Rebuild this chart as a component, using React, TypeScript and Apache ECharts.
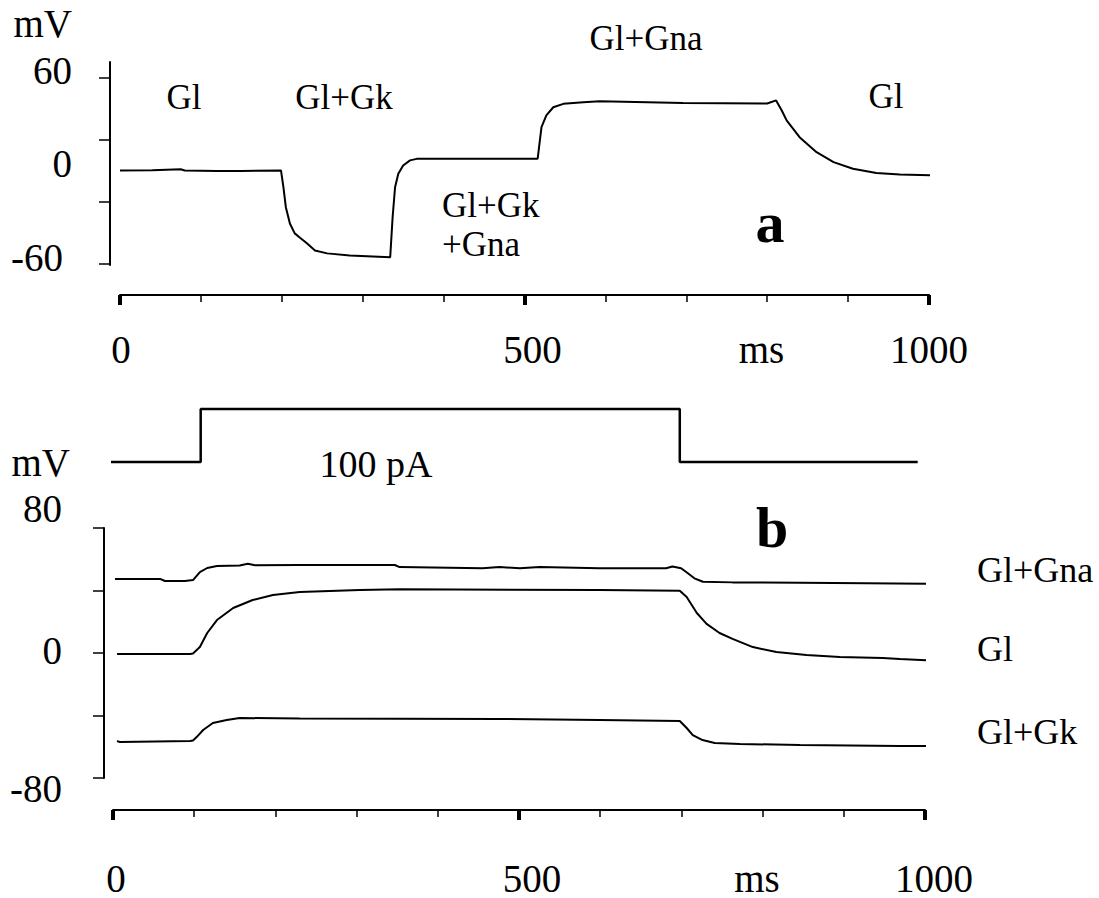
import React, { useEffect, useRef } from "react";
import * as echarts from "echarts";

// ---------- data (time in ms, potential in mV, current in pA) ----------
const timeTicks = [0, 500, 1000];
const timeUnitLabelAt = 793; // where the "ms" unit text sits on the time axis
const timeUnit = "ms";

const panelAYTicks = [-60, -20, 20, 60];
const panelAYLabels = [-60, 0, 60];
const panelBYLabels = [-80, 0, 80];

// panel a : one trace, conductances switched on/off
const traceA: [number, number][] = [
  [0, 0], [40, 0.2], [75, 0.8], [80, 0], [120, -0.4], [150, -0.3], [199, 0],
  [202, -10.8], [205, -23.7], [210, -34.2], [216, -40.6], [222.5, -43.4],
  [231, -47], [241, -51.6], [256, -53.5], [284, -54.8], [334, -56],
  [337, -30], [340, -10.8], [344, -2.1], [350, 3.2], [358.5, 6.5], [366.7, 7.5],
  [516.3, 7.6], [518, 15], [521, 28], [527, 35.5], [535.6, 40.8], [548, 43],
  [572.7, 44], [593, 44.6], [696, 43.6], [800, 43.2], [811, 45.2], [818, 38.7],
  [824, 32.3], [840, 21.5], [861, 11.8], [882, 5.4], [906, 1.1], [935, -1.7],
  [964, -2.6], [1016, -3.2],
];

// panel b : current step
const stimB: [number, number][] = [
  [-4, 0], [108, 0], [108, 100], [698, 100], [698, 0], [991, 0],
];

// panel b : three responses
const seriesNamesB = ["Gl+Gna", "Gl", "Gl+Gk"];
const glGnaB: [number, number][] = [
  [2.5, 47.4], [58, 47.4], [64, 46.1], [88.6, 46.1], [98.5, 46.7], [107, 51.8],
  [116, 54.4], [128, 55.7], [156, 56], [166, 57.1], [175, 56.2], [230, 56.3],
  [347, 56.3], [353, 55], [455, 54.2], [476, 55], [501, 54.2], [525.5, 55],
  [599, 54.2], [681, 54.2], [689, 55.4], [699.6, 54.2], [708, 51], [716, 47.8],
  [726.5, 45.6], [763, 45.2], [846, 45], [928, 44.6], [1018, 44.2],
];
const glB: [number, number][] = [
  [5, -0.6], [95, -0.6], [98.5, -0.3], [107, 3.8], [116, 12.8], [128, 21.1],
  [148, 28.8], [172, 33.9], [197, 37.1], [230, 39], [304, 40.3], [353, 40.8],
  [599, 40.3], [698, 39.9], [706.5, 35.8], [719, 25.6], [731, 18.6], [747, 12.8],
  [763, 9], [788, 3.8], [817, 0.6], [854, -1.3], [895, -2.6], [948, -3.2],
  [969, -3.8], [1018, -5.1],
];
const glGkB: [number, number][] = [
  [5, -56.3], [8.6, -57], [95, -56.3], [98.5, -56], [103, -53.8], [111, -49.3],
  [123, -44.8], [140, -42.9], [156, -41.6], [230, -41.9], [476, -42.2],
  [599, -42.9], [698, -43.5], [706.5, -48], [714, -52.5], [726, -55.7],
  [741, -57.6], [772, -58.2], [846, -58.9], [969, -59.5], [1015, -59.5],
];

// ---------- styling ----------
const SERIF = "Liberation Serif";
const INK = "#000";
const TICK_FONT = 39;
const NOTE_FONT = 35;

function xAxisCfg(gridIndex: number, offset: number, margin: number, shift500: number, shift1000: number, shift0: number) {
  return {
    type: "value",
    gridIndex,
    min: 0,
    max: 1000,
    interval: 500,
    offset,
    axisLine: { show: true, onZero: false, lineStyle: { color: INK, width: 2 } },
    axisTick: { show: true, inside: false, length: 10, lineStyle: { color: INK, width: 4 } },
    minorTick: { show: true, splitNumber: 5, length: 7, lineStyle: { color: INK, width: 1.5 } },
    splitLine: { show: false },
    minorSplitLine: { show: false },
    axisLabel: {
      show: true,
      customValues: [...timeTicks, timeUnitLabelAt],
      margin,
      verticalAlign: "middle",
      fontFamily: SERIF,
      fontSize: TICK_FONT,
      formatter: (v: number) => {
        if (v === timeUnitLabelAt) return `{t|${timeUnit}}`;
        if (v === 500) return `{s5|${v}}`;
        if (v === 1000) return `{s10|${v}}`;
        return `{s0|${v}}`;
      },
      rich: {
        t: { fontSize: TICK_FONT, fontFamily: SERIF, color: INK },
        s0: { fontSize: TICK_FONT, fontFamily: SERIF, color: INK, padding: [0, 0, 0, shift0] },
        s5: { fontSize: TICK_FONT, fontFamily: SERIF, color: INK, padding: [0, 0, 0, shift500] },
        s10: { fontSize: TICK_FONT, fontFamily: SERIF, color: INK, padding: [0, 0, 0, shift1000] },
      },
    },
  };
}

const traceLine = { color: INK, width: 2 };

const option: any = {
  animation: false,
  backgroundColor: "#fff",
  textStyle: { fontFamily: SERIF, color: INK },
  grid: [
    { left: 120, top: 62, width: 809, height: 203 },
    { left: 113, top: 409, width: 812, height: 53 },
    { left: 113, top: 528, width: 812, height: 250 },
  ],
  xAxis: [
    xAxisCfg(0, 30, 54, 16, 0, 2),
    { type: "value", gridIndex: 1, min: 0, max: 1000, show: false },
    xAxisCfg(2, 32, 68, 26, 18, 6),
  ],
  yAxis: [
    {
      type: "value",
      gridIndex: 0,
      min: -61,
      max: 70,
      offset: 10,
      name: "mV",
      nameLocation: "end",
      nameGap: 39,
      nameTextStyle: {
        fontSize: TICK_FONT, fontFamily: SERIF, color: INK,
        align: "right", verticalAlign: "middle", padding: [0, 38, 0, 0],
      },
      axisLine: { show: true, onZero: false, lineStyle: { color: INK, width: 2 } },
      axisTick: { show: true, customValues: panelAYTicks, length: 11, lineStyle: { color: INK, width: 1.5 } },
      splitLine: { show: false },
      axisLabel: {
        show: true,
        customValues: panelAYLabels,
        margin: 38,
        fontFamily: SERIF,
        fontSize: TICK_FONT,
        formatter: (v: number) => (v < 0 ? `{n|${v}}` : `{p|${v}}`),
        rich: {
          p: { fontSize: TICK_FONT, fontFamily: SERIF, color: INK, padding: [0, 0, 14, 0] },
          n: { fontSize: TICK_FONT, fontFamily: SERIF, color: INK, padding: [0, 9, 12, 0] },
        },
      },
    },
    { type: "value", gridIndex: 1, min: 0, max: 100, show: false },
    {
      type: "value",
      gridIndex: 2,
      min: -80,
      max: 80,
      interval: 40,
      offset: 9,
      name: "mV",
      nameLocation: "end",
      nameGap: 66,
      nameTextStyle: {
        fontSize: TICK_FONT, fontFamily: SERIF, color: INK,
        align: "right", verticalAlign: "middle", padding: [0, 34, 0, 0],
      },
      axisLine: { show: true, onZero: false, lineStyle: { color: INK, width: 2 } },
      axisTick: { show: true, length: 11, lineStyle: { color: INK, width: 1.5 } },
      splitLine: { show: false },
      axisLabel: {
        show: true,
        customValues: panelBYLabels,
        margin: 42,
        fontFamily: SERIF,
        fontSize: TICK_FONT,
        formatter: (v: number) => (v > 0 ? `{hi|${v}}` : v < 0 ? `{lo|${v}}` : `{z|${v}}`),
        rich: {
          hi: { fontSize: TICK_FONT, fontFamily: SERIF, color: INK, padding: [0, 0, 40, 0] },
          z: { fontSize: TICK_FONT, fontFamily: SERIF, color: INK, padding: [0, 0, 6, 0] },
          lo: { fontSize: TICK_FONT, fontFamily: SERIF, color: INK, padding: [20, 0, 0, 0] },
        },
      },
    },
  ],
  series: [
    {
      type: "line", name: "a", xAxisIndex: 0, yAxisIndex: 0, data: traceA,
      showSymbol: false, symbol: "none", clip: false, silent: true, lineStyle: traceLine,
    },
    {
      type: "line", name: "100 pA", xAxisIndex: 1, yAxisIndex: 1, data: stimB,
      showSymbol: false, symbol: "none", clip: false, silent: true, lineStyle: { color: INK, width: 2.5 },
    },
    ...[glGnaB, glB, glGkB].map((d, i) => ({
      type: "line",
      name: seriesNamesB[i],
      xAxisIndex: 2,
      yAxisIndex: 2,
      data: d,
      showSymbol: false,
      symbol: "none",
      clip: false,
      silent: true,
      lineStyle: traceLine,
      endLabel: {
        show: true,
        distance: 51,
        fontSize: 36,
        fontFamily: SERIF,
        color: INK,
        formatter: (p: any) => `{n${i}|${p.seriesName}}`,
        rich: {
          n0: { fontSize: 36, fontFamily: SERIF, color: INK, padding: [0, 0, 28, 0] },
          n1: { fontSize: 36, fontFamily: SERIF, color: INK, padding: [0, 0, 22, 0] },
          n2: { fontSize: 36, fontFamily: SERIF, color: INK, padding: [0, 0, 28, 0] },
        },
      },
    })),
  ],
  graphic: [
    { type: "text", x: 184, y: 97, style: { text: "Gl", fontSize: NOTE_FONT, fontFamily: SERIF, fill: INK, align: "center", verticalAlign: "middle" } },
    { type: "text", x: 344, y: 97, style: { text: "Gl+Gk", fontSize: NOTE_FONT, fontFamily: SERIF, fill: INK, align: "center", verticalAlign: "middle" } },
    { type: "text", x: 646, y: 38, style: { text: "Gl+Gna", fontSize: NOTE_FONT, fontFamily: SERIF, fill: INK, align: "center", verticalAlign: "middle" } },
    { type: "text", x: 886, y: 96, style: { text: "Gl", fontSize: NOTE_FONT, fontFamily: SERIF, fill: INK, align: "center", verticalAlign: "middle" } },
    { type: "text", x: 442, y: 205, style: { text: "Gl+Gk", fontSize: NOTE_FONT, fontFamily: SERIF, fill: INK, align: "left", verticalAlign: "middle" } },
    { type: "text", x: 442, y: 244, style: { text: "+Gna", fontSize: NOTE_FONT, fontFamily: SERIF, fill: INK, align: "left", verticalAlign: "middle" } },
    { type: "text", x: 770, y: 222, style: { text: "a", fontSize: 58, fontWeight: "bold", fontFamily: SERIF, fill: INK, align: "center", verticalAlign: "middle" } },
    { type: "text", x: 376, y: 464, style: { text: "100 pA", fontSize: 38, fontFamily: SERIF, fill: INK, align: "center", verticalAlign: "middle" } },
    { type: "text", x: 772, y: 527, style: { text: "b", fontSize: 58, fontWeight: "bold", fontFamily: SERIF, fill: INK, align: "center", verticalAlign: "middle" } },
  ],
};

export default function App() {
  const ref = useRef<HTMLDivElement>(null);
  useEffect(() => {
    if (!ref.current) return;
    const chart = echarts.init(ref.current, undefined, { renderer: "svg" });
    chart.setOption(option);
    return () => chart.dispose();
  }, []);
  return (
    <div
      ref={ref}
      style={{ position: "fixed", left: 0, top: 0, width: 1099, height: 898, background: "#fff" }}
    />
  );
}
